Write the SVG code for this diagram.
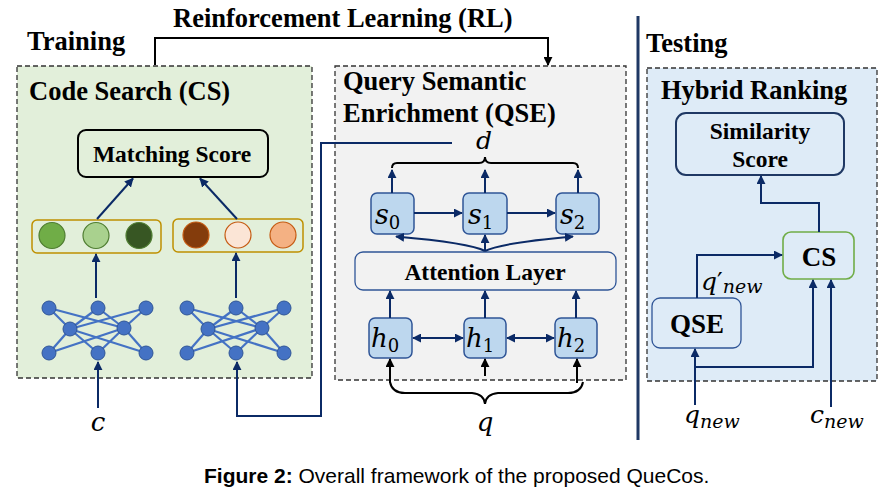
<svg xmlns="http://www.w3.org/2000/svg" xmlns:xlink="http://www.w3.org/1999/xlink" width="896" height="500" viewBox="0 0 896 500">
<style>
.h{font-family:"Liberation Serif","Times New Roman",serif;font-weight:bold;fill:#000}
.m{font-family:"DejaVu Serif","Liberation Serif",serif;font-style:italic;fill:#000}
.mu{font-style:normal}
.cap{font-family:"Liberation Sans",Arial,sans-serif;fill:#000}
.panel{stroke:#333;stroke-width:1.3;stroke-dasharray:5 3}
.ar{fill:none;stroke:#0B2A66;stroke-width:2}
.bk{fill:none;stroke:#000;stroke-width:2}
.cell{fill:#BDD7EE;stroke:#2F5597;stroke-width:1.5}
.nn line{stroke:#4472C4;stroke-width:2.2}
.nn circle{fill:#4472C4;stroke:#2F5597;stroke-width:1}
</style>
<defs>
<marker id="a" viewBox="0 0 10 10" refX="9" refY="5" markerWidth="9" markerHeight="9" markerUnits="userSpaceOnUse" orient="auto">
<path d="M0,0 L10,5 L0,10 z" fill="#0B2A66"/>
</marker>
<marker id="ak" viewBox="0 0 10 10" refX="9" refY="5" markerWidth="9" markerHeight="9" markerUnits="userSpaceOnUse" orient="auto">
<path d="M0,0 L10,5 L0,10 z" fill="#000"/>
</marker>
<marker id="as" viewBox="0 0 10 10" refX="1" refY="5" markerWidth="9" markerHeight="9" markerUnits="userSpaceOnUse" orient="auto">
<path d="M10,0 L0,5 L10,10 z" fill="#0B2A66"/>
</marker>
<g id="net" class="nn">
<line x1="49" y1="308" x2="70" y2="329"/><line x1="49" y1="308" x2="124" y2="328"/>
<line x1="98" y1="308" x2="70" y2="329"/><line x1="98" y1="308" x2="124" y2="328"/>
<line x1="146" y1="308" x2="70" y2="329"/><line x1="146" y1="308" x2="124" y2="328"/>
<line x1="49" y1="353" x2="70" y2="329"/><line x1="49" y1="353" x2="124" y2="328"/>
<line x1="98" y1="353" x2="70" y2="329"/><line x1="98" y1="353" x2="124" y2="328"/>
<line x1="146" y1="353" x2="70" y2="329"/><line x1="146" y1="353" x2="124" y2="328"/>
<circle cx="49" cy="308" r="7"/><circle cx="98" cy="308" r="7"/><circle cx="146" cy="308" r="7"/>
<circle cx="70" cy="329" r="7"/><circle cx="124" cy="328" r="7"/>
<circle cx="49" cy="353" r="7"/><circle cx="98" cy="353" r="7"/><circle cx="146" cy="353" r="7"/>
</g>
</defs>

<rect width="896" height="500" fill="#fff"/>

<!-- section titles -->
<text class="h" x="27" y="50" font-size="26.5">Training</text>
<text class="h" x="173" y="27" font-size="26.5">Reinforcement Learning (RL)</text>
<text class="h" x="646" y="52" font-size="26.5">Testing</text>
<line x1="638" y1="16" x2="638" y2="440" stroke="#1F3864" stroke-width="3"/>

<!-- Code Search panel -->
<g id="cs-panel">
<rect class="panel" x="17" y="66" width="295" height="312" fill="#E2EFDA"/>
<text class="h" x="29" y="100" font-size="26.5">Code Search (CS)</text>
</g>
<g id="matching-score">
<rect x="78" y="130" width="190" height="47" rx="8" fill="#E2EFDA" stroke="#000" stroke-width="2"/>
<text class="h" x="172" y="162" font-size="23.5" text-anchor="middle">Matching Score</text>
</g>
<g id="code-vec">
<rect x="32" y="220" width="129" height="33" rx="5" fill="none" stroke="#BF9000" stroke-width="1.5"/>
<circle cx="52" cy="235.5" r="13" fill="#70AD47" stroke="#507E32" stroke-width="1.2"/>
<circle cx="96" cy="235.5" r="13" fill="#A9D18E" stroke="#507E32" stroke-width="1.2"/>
<circle cx="139" cy="235.5" r="13" fill="#375623" stroke="#507E32" stroke-width="1.2"/>
</g>
<g id="query-vec">
<rect x="173" y="219" width="130" height="33" rx="5" fill="none" stroke="#BF9000" stroke-width="1.5"/>
<circle cx="196" cy="235" r="13" fill="#843C0C" stroke="#C55A11" stroke-width="1.2"/>
<circle cx="238" cy="235" r="13" fill="#FBE5D6" stroke="#C55A11" stroke-width="1.2"/>
<circle cx="283" cy="235" r="13" fill="#F4B183" stroke="#C55A11" stroke-width="1.2"/>
</g>
<g id="code-net"><use xlink:href="#net" href="#net"/></g>
<g id="query-net"><use xlink:href="#net" href="#net" transform="translate(138,0)"/></g>
<g id="label-c"><text class="m" x="98" y="431" font-size="26" text-anchor="middle">c</text></g>

<!-- QSE panel -->
<g id="qse-panel">
<rect class="panel" x="335" y="66" width="291" height="314" fill="#F2F2F2"/>
<text class="h" x="343" y="90" font-size="26.5">Query Semantic</text>
<text class="h" x="343" y="122" font-size="26.5">Enrichment (QSE)</text>
</g>
<g id="label-d"><text class="m" x="484" y="149" font-size="25" text-anchor="middle">d</text></g>
<g id="s0"><rect class="cell" x="371" y="193" width="43" height="41" rx="6"/><text class="m" x="375" y="224" font-size="27">s<tspan class="mu" font-size="18" dy="5">0</tspan></text></g>
<g id="s1"><rect class="cell" x="463" y="193" width="44" height="41" rx="6"/><text class="m" x="468" y="224" font-size="27">s<tspan class="mu" font-size="18" dy="5">1</tspan></text></g>
<g id="s2"><rect class="cell" x="556" y="193" width="43" height="41" rx="6"/><text class="m" x="560" y="224" font-size="27">s<tspan class="mu" font-size="18" dy="5">2</tspan></text></g>
<g id="attention">
<rect x="355" y="252" width="261" height="38" rx="8" fill="#F2F2F2" stroke="#2F5597" stroke-width="1.3"/>
<text class="h" x="485" y="280" font-size="23.5" text-anchor="middle">Attention Layer</text>
</g>
<g id="h0"><rect class="cell" x="369" y="318" width="43" height="40" rx="6"/><text class="m" x="371" y="347" font-size="26">h<tspan class="mu" font-size="18" dy="5">0</tspan></text></g>
<g id="h1"><rect class="cell" x="464" y="318" width="42" height="40" rx="6"/><text class="m" x="466" y="347" font-size="26">h<tspan class="mu" font-size="18" dy="5">1</tspan></text></g>
<g id="h2"><rect class="cell" x="555" y="318" width="42" height="40" rx="6"/><text class="m" x="557" y="347" font-size="26">h<tspan class="mu" font-size="18" dy="5">2</tspan></text></g>
<g id="label-q"><text class="m" x="485" y="431" font-size="26" text-anchor="middle">q</text></g>

<!-- Hybrid ranking panel -->
<g id="hr-panel">
<rect class="panel" x="647" y="68" width="230" height="313" fill="#DEEBF7"/>
<text class="h" x="661" y="99" font-size="26.5">Hybrid Ranking</text>
</g>
<g id="similarity">
<rect x="676" y="113" width="168" height="62" rx="10" fill="#DEEBF7" stroke="#1F3864" stroke-width="2"/>
<text class="h" x="760" y="139" font-size="23.5" text-anchor="middle">Similarity</text>
<text class="h" x="760" y="167" font-size="23.5" text-anchor="middle">Score</text>
</g>
<g id="cs-test">
<rect x="783" y="232" width="71" height="47" rx="8" fill="#DEEBF7" stroke="#70AD47" stroke-width="1.6"/>
<text class="h" x="819" y="266" font-size="27" text-anchor="middle">CS</text>
</g>
<g id="qse-test">
<rect x="652" y="298" width="89" height="50" rx="8" fill="#DEEBF7" stroke="#2F5597" stroke-width="1.3"/>
<text class="h" x="697" y="333" font-size="27" text-anchor="middle">QSE</text>
</g>
<g id="labels-test">
<text class="m" x="701" y="290" font-size="25">q<tspan font-style="normal">′</tspan><tspan font-size="19" dy="3">new</tspan></text>
<text class="m" x="684" y="423" font-size="25">q<tspan font-size="19" dy="5">new</tspan></text>
<text class="m" x="810" y="423" font-size="25">c<tspan font-size="19" dy="5">new</tspan></text>
</g>

<!-- connectors -->
<g id="connectors">
<path class="bk" d="M155,65 V38 H548 V65" marker-end="url(#ak)"/>
<line class="ar" x1="97" y1="219" x2="133" y2="178.5" marker-end="url(#a)"/>
<line class="ar" x1="237" y1="219" x2="200" y2="178.5" marker-end="url(#a)"/>
<line class="ar" x1="96" y1="298" x2="96" y2="254" marker-end="url(#a)"/>
<line class="ar" x1="236" y1="298" x2="236" y2="253" marker-end="url(#a)"/>
<line class="ar" x1="98" y1="408" x2="98" y2="362" marker-end="url(#a)"/>
<path class="ar" d="M452,143 H321 V416 H237 V362" marker-end="url(#a)"/>
<!-- d brace -->
<path class="bk" d="M392,168 Q392,163 397,163 H479 Q485,163 485,157 Q485,163 491,163 H573 Q578,163 578,168" stroke-width="1.8"/>
<line class="ar" x1="392" y1="193" x2="392" y2="170" marker-end="url(#a)"/>
<line class="ar" x1="485" y1="193" x2="485" y2="170" marker-end="url(#a)"/>
<line class="ar" x1="578" y1="193" x2="578" y2="170" marker-end="url(#a)"/>
<line class="ar" x1="414" y1="213" x2="462" y2="213" marker-end="url(#a)"/>
<line class="ar" x1="507" y1="213" x2="555" y2="213" marker-end="url(#a)"/>
<!-- attention fan -->
<path class="ar" d="M485,251 Q470,243 396,236.5" marker-end="url(#a)"/>
<path class="ar" d="M485,251 Q500,243 573,236.5" marker-end="url(#a)"/>
<line class="ar" x1="485" y1="251" x2="485" y2="235" marker-end="url(#a)"/>
<!-- h to attention -->
<line class="ar" x1="390" y1="318" x2="390" y2="291" marker-end="url(#a)"/>
<line class="ar" x1="485" y1="318" x2="485" y2="291" marker-end="url(#a)"/>
<line class="ar" x1="576" y1="318" x2="576" y2="291" marker-end="url(#a)"/>
<line class="ar" x1="413" y1="338" x2="463" y2="338" marker-start="url(#as)" marker-end="url(#a)"/>
<line class="ar" x1="507" y1="338" x2="554" y2="338" marker-start="url(#as)" marker-end="url(#a)"/>
<!-- q brace and black arrows -->
<path class="bk" d="M390,382 Q392,393 405,393 H472 Q484,394 485,404 Q486,394 498,393 H568 Q581,393 583,382" stroke-width="1.8"/>
<line class="bk" x1="390" y1="383" x2="390" y2="359" marker-end="url(#ak)"/>
<line class="bk" x1="485" y1="376" x2="485" y2="359" marker-end="url(#ak)"/>
<line class="bk" x1="577" y1="383" x2="577" y2="359" marker-end="url(#ak)"/>
<!-- testing -->
<path class="ar" d="M819,232 V203 H761 V176" marker-end="url(#a)"/>
<path class="ar" d="M697,298 V255 H782" marker-end="url(#a)"/>
<line class="ar" x1="695" y1="405" x2="695" y2="349" marker-end="url(#a)"/>
<path class="ar" d="M695,367 H813 V280" marker-end="url(#a)"/>
<line class="ar" x1="831" y1="407" x2="831" y2="280" marker-end="url(#a)"/>
</g>

<text class="cap" x="204" y="483" font-size="21"><tspan font-weight="bold">Figure 2:</tspan> Overall framework of the proposed QueCos.</text>
</svg>
